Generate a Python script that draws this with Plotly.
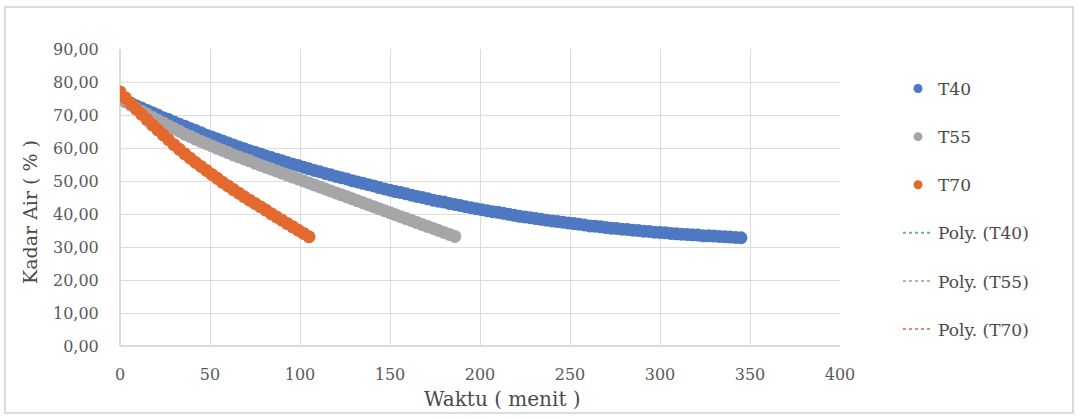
import numpy as np
import plotly.graph_objects as go

# ---------------- data ----------------
t40_time = list(range(0, 348, 3))
t40_kadar = [75.0, 74.3, 73.6, 72.8, 72.1, 71.4, 70.7, 70.0, 69.2, 68.6,
             67.9, 67.2, 66.6, 65.9, 65.3, 64.6, 63.9, 63.3, 62.7, 62.1,
             61.5, 60.9, 60.3, 59.8, 59.2, 58.7, 58.2, 57.6, 57.1, 56.6,
             56.1, 55.6, 55.1, 54.7, 54.2, 53.7, 53.2, 52.8, 52.3, 51.9,
             51.4, 51.0, 50.6, 50.1, 49.7, 49.3, 48.9, 48.5, 48.0, 47.6,
             47.2, 46.8, 46.5, 46.1, 45.7, 45.3, 45.0, 44.6, 44.2, 43.9,
             43.6, 43.2, 42.9, 42.6, 42.2, 41.9, 41.6, 41.3, 41.0, 40.7,
             40.5, 40.2, 39.9, 39.6, 39.3, 39.1, 38.9, 38.6, 38.4, 38.1,
             37.9, 37.7, 37.5, 37.3, 37.1, 36.9, 36.7, 36.4, 36.3, 36.1,
             35.9, 35.7, 35.6, 35.4, 35.3, 35.1, 35.0, 34.8, 34.7, 34.5,
             34.4, 34.3, 34.1, 34.0, 33.9, 33.8, 33.7, 33.6, 33.4, 33.4,
             33.3, 33.2, 33.1, 33.0, 32.9, 32.8]

t55_time = list(range(0, 189, 3))
t55_kadar = [75.0, 74.0, 73.0, 72.0, 71.1, 70.2, 69.3, 68.4, 67.6, 66.7,
             65.9, 65.1, 64.2, 63.5, 62.7, 62.0, 61.3, 60.6, 59.9, 59.3,
             58.6, 57.9, 57.3, 56.7, 56.1, 55.4, 54.8, 54.2, 53.6, 53.0,
             52.4, 51.8, 51.2, 50.6, 50.0, 49.4, 48.8, 48.2, 47.6, 47.0,
             46.4, 45.8, 45.2, 44.6, 44.0, 43.4, 42.8, 42.2, 41.6, 41.0,
             40.4, 39.8, 39.2, 38.6, 38.0, 37.4, 36.8, 36.2, 35.6, 35.0,
             34.4, 33.8, 33.2]

t70_time = list(range(0, 108, 3))
t70_kadar = [77.0, 75.2, 73.5, 71.8, 70.2, 68.6, 67.0, 65.5, 64.0, 62.5,
             61.0, 59.6, 58.2, 56.9, 55.6, 54.4, 53.2, 52.0, 50.8, 49.6,
             48.5, 47.4, 46.3, 45.2, 44.2, 43.2, 42.2, 41.2, 40.1, 39.1,
             38.1, 37.1, 36.1, 35.1, 34.1, 33.1]

series_names = ["T40", "T55", "T70"]
x_ticks = [0, 50, 100, 150, 200, 250, 300, 350, 400]
y_ticks = [0, 10, 20, 30, 40, 50, 60, 70, 80, 90]

assert len(t40_time) == len(t40_kadar)
assert len(t55_time) == len(t55_kadar)
assert len(t70_time) == len(t70_kadar)

# ---------------- style ----------------
colors = {"T40": "#4E79C2", "T55": "#A6A6A8", "T70": "#E4692E"}
trend_colors = {"T40": "#6FA3D8", "T55": "#B4B4B4", "T70": "#E98A5C"}
FONT = "DejaVu Serif"
W, H = 1078, 418
L, R, T, B = 120, 840, 49, 346


def px_x(p):
    return (p - L) / (R - L)


def px_y(p):
    return (B - p) / (B - T)


data = {
    "T40": (t40_time, t40_kadar),
    "T55": (t55_time, t55_kadar),
    "T70": (t70_time, t70_kadar),
}

fig = go.Figure()

# polynomial trendlines (order 2, fitted on the data), drawn under the markers
for i, name in enumerate(series_names):
    x, y = data[name]
    coef = np.polyfit(x, y, 2)
    xs = np.linspace(min(x), max(x), 200)
    fig.add_trace(go.Scatter(
        x=xs, y=np.polyval(coef, xs), mode="lines",
        line=dict(color=trend_colors[name], width=2, dash="dot"),
        name=f"Poly. ({name})", legendgroup=f"p{name}", legendrank=10 + i,
        hoverinfo="skip"))

# data markers (legend hidden; proxies below give small legend markers)
for name in series_names:
    x, y = data[name]
    fig.add_trace(go.Scatter(
        x=x, y=y, mode="markers",
        marker=dict(color=colors[name], size=13, line=dict(width=0)),
        name=name, showlegend=False))

for i, name in enumerate(series_names):
    fig.add_trace(go.Scatter(
        x=[None], y=[None], mode="markers",
        marker=dict(color=colors[name], size=9),
        name=name, legendgroup=name, legendrank=i + 1))

grid = "#DCDCDC"
fig.update_layout(
    width=W, height=H,
    margin=dict(l=L, r=W - R, t=T, b=H - B, pad=0),
    paper_bgcolor="white", plot_bgcolor="white",
    separators=",.",
    font=dict(family=FONT, size=16, color="#595959"),
    showlegend=True,
    legend=dict(x=px_x(898), y=px_y(71), xanchor="left", yanchor="top",
                font=dict(family=FONT, size=17, color="#4A4A4A"),
                tracegroupgap=23, traceorder="grouped",
                bgcolor="rgba(0,0,0,0)"),
    xaxis=dict(range=[0, 400], tickvals=x_ticks, showgrid=True,
               gridcolor=grid, gridwidth=1, zeroline=True,
               zerolinecolor=grid, showline=False,
               ticks="outside", ticklen=14, tickcolor="rgba(0,0,0,0)",
               tickfont=dict(family=FONT, size=16, color="#595959")),
    yaxis=dict(range=[0, 90], tickvals=y_ticks, tickformat=".2f",
               showgrid=True, gridcolor=grid, gridwidth=1,
               zeroline=True, zerolinecolor=grid, showline=False,
               ticks="outside", ticklen=17, tickcolor="rgba(0,0,0,0)",
               tickfont=dict(family=FONT, size=16, color="#595959")),
    annotations=[
        dict(text="Waktu ( menit )", xref="paper", yref="paper",
             x=px_x(502), y=px_y(399), xanchor="center", yanchor="middle",
             showarrow=False, font=dict(family=FONT, size=20, color="#4A4A4A")),
        dict(text="Kadar Air ( % )", xref="paper", yref="paper",
             x=px_x(30), y=px_y(212), xanchor="center", yanchor="middle",
             textangle=-90, showarrow=False,
             font=dict(family=FONT, size=19, color="#4A4A4A")),
    ],
    shapes=[dict(type="rect", xref="paper", yref="paper",
                 x0=px_x(5), x1=px_x(1073), y0=px_y(413), y1=px_y(7),
                 line=dict(color="#CFCFCF", width=1.5), layer="below")],
)

fig.write_html("out.html")
